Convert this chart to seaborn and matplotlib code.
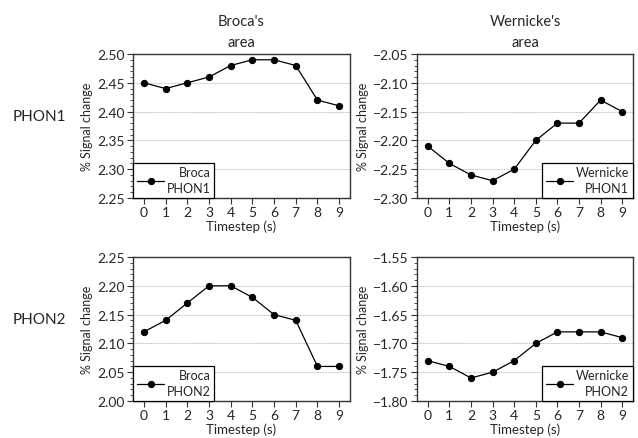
import matplotlib
matplotlib.use('Agg')
import matplotlib.pyplot as plt
from matplotlib.ticker import MultipleLocator
import pandas as pd
import seaborn as sns

timesteps = [0, 1, 2, 3, 4, 5, 6, 7, 8, 9]
broca_phon1 = [2.45, 2.44, 2.45, 2.46, 2.48, 2.49, 2.49, 2.48, 2.42, 2.41]
wernicke_phon1 = [-2.21, -2.24, -2.26, -2.27, -2.25, -2.20, -2.17, -2.17, -2.13, -2.15]
broca_phon2 = [2.12, 2.14, 2.17, 2.20, 2.20, 2.18, 2.15, 2.14, 2.06, 2.06]
wernicke_phon2 = [-1.73, -1.74, -1.76, -1.75, -1.73, -1.70, -1.68, -1.68, -1.68, -1.69]

col_titles = ["Broca's\narea", "Wernicke's\narea"]
row_labels = ["PHON1", "PHON2"]

sns.set_style("ticks")
plt.rcParams['font.family'] = ['Lato', 'DejaVu Sans']

fig = plt.figure(figsize=(6.38, 4.39), dpi=100)
W, H = 638, 439

def make_ax(x0, y0, x1, y1):
    return fig.add_axes([x0 / W, 1 - y1 / H, (x1 - x0) / W, (y1 - y0) / H])

panels = [
    # (values, ylim, legend label, legend loc, box)
    (broca_phon1, (2.25, 2.50), "Broca\nPHON1", "lower left", (133, 55, 350, 199)),
    (wernicke_phon1, (-2.30, -2.05), "Wernicke\nPHON1", "lower right", (417, 55, 633, 199)),
    (broca_phon2, (2.00, 2.25), "Broca\nPHON2", "lower left", (133, 258, 350, 402)),
    (wernicke_phon2, (-1.80, -1.55), "Wernicke\nPHON2", "lower right", (417, 258, 633, 402)),
]

for i, (vals, ylim, lab, loc, box) in enumerate(panels):
    ax = make_ax(*box)
    df = pd.DataFrame({"t": timesteps, "v": vals})
    sns.lineplot(data=df, x="t", y="v", marker="o", color="black", lw=0.9,
                 markersize=4.5, markeredgecolor="black", label=lab, ax=ax)
    ax.set_xlim(-0.5, 9.5)
    ax.set_ylim(*ylim)
    ax.set_xticks(timesteps)
    ax.yaxis.set_major_locator(MultipleLocator(0.05))
    ax.yaxis.set_minor_locator(MultipleLocator(0.01))
    ax.yaxis.set_major_formatter(matplotlib.ticker.FuncFormatter(
        lambda v, p: f"{v:.2f}".replace("-", "\u2212")))
    ax.tick_params(axis='both', which='major', length=4, width=0.8, labelsize=10,
                   pad=2, color='#333333')
    ax.tick_params(axis='y', which='minor', length=2, width=0.6, color='#333333')
    ax.grid(axis='y', which='major', color='#b5b5b5', linestyle=(0, (3, 1)), lw=0.5)
    for s in ax.spines.values():
        s.set_color('#333333')
        s.set_linewidth(1.0)
    ax.set_ylabel("% Signal change", fontsize=9, labelpad=3)
    ax.set_xlabel("Timestep (s)", fontsize=9.5, labelpad=1)
    leg = ax.legend(loc=loc, frameon=True, fancybox=False, borderaxespad=0,
                    fontsize=9, handlelength=2.2, handletextpad=0.2,
                    borderpad=0.3)
    leg.get_frame().set_edgecolor('black')
    leg.get_frame().set_linewidth(0.9)
    leg.get_frame().set_alpha(1)
    for t in leg.get_texts():
        t.set_multialignment('right')
        t.set_linespacing(1.4)
    if i < 2:
        ax.set_title(col_titles[i], fontsize=10.5, pad=6, linespacing=1.6)
    if i % 2 == 0:
        y_c = (box[1] + box[3]) / 2 - 10
        fig.text(13 / W, 1 - y_c / H, row_labels[i // 2], fontsize=11,
                 ha='left', va='center')

fig.savefig("out.png", dpi=100)
